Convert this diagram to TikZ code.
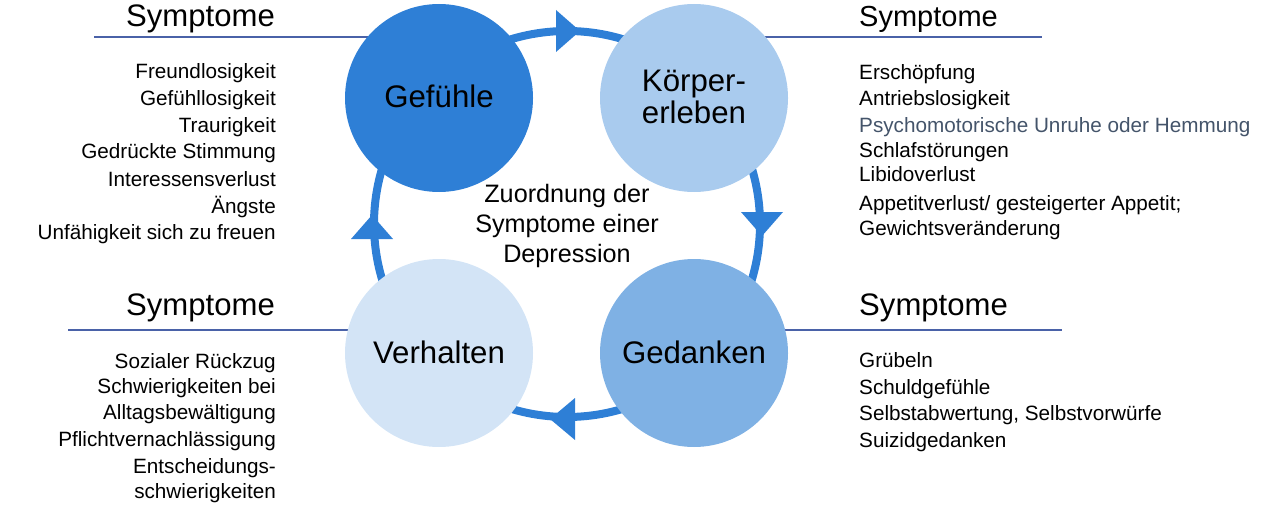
\documentclass[tikz,border=0pt]{standalone}
\usepackage{fontspec}
\setmainfont{Liberation Sans}
\definecolor{ringcol}{HTML}{2E7FD6}
\definecolor{gefcol}{HTML}{2E7FD6}
\definecolor{koecol}{HTML}{A9CBEE}
\definecolor{gedcol}{HTML}{7FB1E4}
\definecolor{vercol}{HTML}{D3E4F6}
\definecolor{rulecol}{HTML}{4A62A8}
\definecolor{slatecol}{HTML}{44546A}
\begin{document}
\begin{tikzpicture}[x=1pt,y=-1pt,
  bub/.style={circle,minimum size=188pt,inner sep=0pt},
  lbl/.style={font=\fontsize{31.2}{36}\selectfont,anchor=base,inner sep=0pt},
  head/.style={font=\fontsize{31.1}{36}\selectfont,inner sep=0pt},
  ctr/.style={font=\fontsize{25.2}{30}\selectfont,anchor=base,inner sep=0pt},
  item/.style={font=\fontsize{20.7}{24}\selectfont,inner sep=0pt},
  rule/.style={draw=rulecol,line width=2pt},
  ring/.style={draw=ringcol,line width=8pt},
  tipfill/.style={fill=ringcol}]
\useasboundingbox (0,0) rectangle (1273,505);
% centres
\coordinate (cG) at (439,98);
\coordinate (cK) at (694,98);
\coordinate (cV) at (439,353);
\coordinate (cD) at (694,353);
\coordinate (rc) at (567,224);
% rules
\coordinate (rTL) at (94,37);
\coordinate (rTR) at (1042,37);
\coordinate (rBL) at (68,330);
\coordinate (rBR) at (1062,330);
\draw[rule] (rTL) -- (cG |- rTL);
\draw[rule] (cK |- rTR) -- (rTR);
\draw[rule] (rBL) -- (cV |- rBL);
\draw[rule] (cD |- rBR) -- (rBR);
% ring
\draw[ring] (rc) circle[radius=193pt];
\fill[tipfill] (556,10) -- (556,52) -- (580,31) -- cycle;
\fill[tipfill] (741,212) -- (783,212) -- (762,236) -- cycle;
\fill[tipfill] (575,398) -- (575,440) -- (550,419) -- cycle;
\fill[tipfill] (351,239) -- (393,239) -- (372,215) -- cycle;
% bubbles
\node[bub,fill=gefcol] (G) at (cG) {};
\node[bub,fill=koecol] (K) at (cK) {};
\node[bub,fill=vercol] (V) at (cV) {};
\node[bub,fill=gedcol] (D) at (cD) {};
\node[lbl] (Gt) at (439,108) {Gefühle};
\node[lbl] (Kt1) at (694,92) {Körper-};
\node[lbl] (Kt2) at (694,124) {erleben};
\node[lbl] (Vt) at (439,363) {Verhalten};
\node[lbl] (Dt) at (694,363) {Gedanken};
% centre text
\node[ctr] (z1) at (567,202.5) {Zuordnung der};
\node[ctr] (z2) at (567,232) {Symptome einer};
\node[ctr] (z3) at (567,262) {Depression};
% headings
\node[head,anchor=base east] (hTL) at (275,27) {Symptome};
\node[head,anchor=base west,font=\fontsize{29}{34}\selectfont] (hTR) at (859,27) {Symptome};
\node[head,anchor=base east] (hBL) at (275,315) {Symptome};
\node[head,anchor=base west] (hBR) at (859,315) {Symptome};
% lists
\foreach \yy/\tt in {79/Freundlosigkeit,106/Gefühllosigkeit,133/Traurigkeit,159/Gedrückte Stimmung,186/Interessensverlust,213/Ängste,239/Unfähigkeit sich zu freuen}
  \node[item,anchor=base east] (tl\yy) at (276,\yy) {\tt};
\foreach \yy/\tt in {80/Erschöpfung,106/Antriebslosigkeit,158/Schlafstörungen,182/Libidoverlust,210/{Appetitverlust/ gesteigerter Appetit;},235/Gewichtsveränderung}
  \node[item,anchor=base west] (tr\yy) at (859,\yy) {\tt};
\node[item,anchor=base west,text=slatecol] (tr133) at (859,133) {Psychomotorische Unruhe oder Hemmung};
\foreach \yy/\tt in {368/Sozialer Rückzug,393/Schwierigkeiten bei,419/Alltagsbewältigung,446/Pflichtvernachlässigung,473/Entscheidungs-,498/schwierigkeiten}
  \node[item,anchor=base east] (bl\yy) at (276,\yy) {\tt};
\foreach \yy/\tt in {367/Grübeln,394/Schuldgefühle,420/{Selbstabwertung, Selbstvorwürfe},447/Suizidgedanken}
  \node[item,anchor=base west] (br\yy) at (859,\yy) {\tt};
\end{tikzpicture}
\end{document}
